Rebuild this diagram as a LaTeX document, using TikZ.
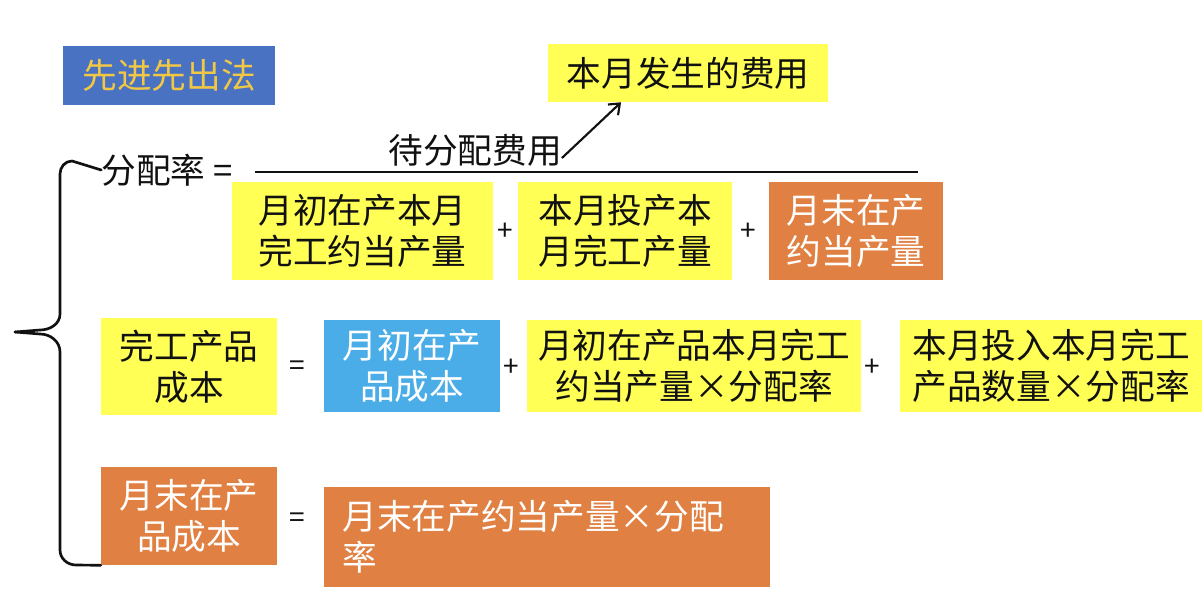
\documentclass[tikz,border=0pt]{standalone}
\usepackage{fontspec}
\usepackage{xcolor}
\usepackage{tikz}
\usetikzlibrary{arrows.meta,positioning}
\newfontfamily\cjk{Noto Sans CJK SC}
\definecolor{fifoInk}{HTML}{111111}
\definecolor{fifoYellow}{HTML}{FFFF55}
\definecolor{fifoOrange}{HTML}{E08042}
\definecolor{fifoBlue}{HTML}{4A72C2}
\definecolor{fifoSky}{HTML}{4BADE8}
\definecolor{fifoGold}{HTML}{F2C744}
\tikzset{
    >=Latex,
    every picture/.style={font=\cjk},
    ybox/.style={fill=fifoYellow, text=fifoInk, align=center, inner sep=0pt},
    obox/.style={fill=fifoOrange, text=white, align=center, inner sep=0pt},
    sbox/.style={fill=fifoSky, text=white, align=center, inner sep=0pt},
    tbox/.style={fill=fifoBlue, text=fifoGold, align=center, inner sep=0pt},
    op/.style={text=fifoInk, inner sep=0pt, font=\cjk\fontsize{21}{24}\selectfont},
    plain/.style={text=fifoInk, inner sep=0pt},
    arrow/.style={-{Straight Barb[length=7pt,width=11pt]}, line width=1.6pt, draw=fifoInk},
    fracline/.style={line width=1.8pt, draw=fifoInk},
    brace/.style={line width=2pt, draw=fifoInk, line cap=round}
}
\begin{document}
\begin{tikzpicture}[x=0.75pt, y=-0.75pt, font=\cjk\fontsize{26}{31}\selectfont]
\useasboundingbox (0,0) rectangle (1202,604);
% header
\node[tbox, minimum width=159pt, minimum height=44.25pt] (title) at (169,75.5) {先进先出法};
\node[ybox, minimum width=210pt, minimum height=43.5pt] (incur) at (688,73) {本月发生的费用};
% rate = cost / quantities
\node[plain] (rate) at (167,170) {分配率 =};
\node[plain] (wait) at (475,150) {待分配费用};
\draw[fracline] (255,172) -- (918,172);
\draw[arrow] ([yshift=-6pt]wait.east) -- ([xshift=55pt]incur.south west);
\node[ybox, minimum width=195.75pt, minimum height=73.5pt] (d1) at (362.5,231) {月初在产本月\\完工约当产量};
\node[ybox, minimum width=160.5pt, minimum height=73.5pt] (d2) at (625,231) {本月投产本\\月完工产量};
\node[obox, minimum width=130.5pt, minimum height=73.5pt] (d3) at (856,231) {月末在产\\约当产量};
\node[op] (p1) at (505,232) {+};
\node[op] (p2) at (748,232) {+};
% finished goods
\node[ybox, minimum width=132pt, minimum height=72.75pt] (fin) at (189,366.5) {完工产品\\成本};
\node[op] (e1) at (297,368) {=};
\node[sbox, minimum width=132pt, minimum height=69pt] (open) at (412,366) {月初在产\\品成本};
\node[op] (p3) at (511,368) {+};
\node[ybox, minimum width=250.5pt, minimum height=69pt] (cont) at (694,366) {月初在产品本月完工\\约当产量×分配率};
\node[op] (p4) at (872,368) {+};
\node[ybox, minimum width=226.5pt, minimum height=69pt] (newp) at (1051,366) {本月投入本月完工\\产品数量×分配率};
% work in process
\node[obox, minimum width=132pt, minimum height=73.5pt] (wip) at (189,516) {月末在产\\品成本};
\node[op] (e2) at (297,520) {=};
\node[obox, minimum width=334.5pt, minimum height=75pt, text width=307pt, align=left, inner xsep=14pt] (wipc) at (547,537) {月末在产约当产量×分配\\率};
% brace
\draw[brace] (rate.west) -- (72,161) to[out=180,in=90] (60,174) -- (60,314) to[out=-90,in=0] (40,330) -- (15,332);
\draw[brace] (15,332) -- (40,334) to[out=0,in=90] (60,352) -- (60,550) to[out=-90,in=180] (76,565) -- (wip.south west);
\end{tikzpicture}
\end{document}
